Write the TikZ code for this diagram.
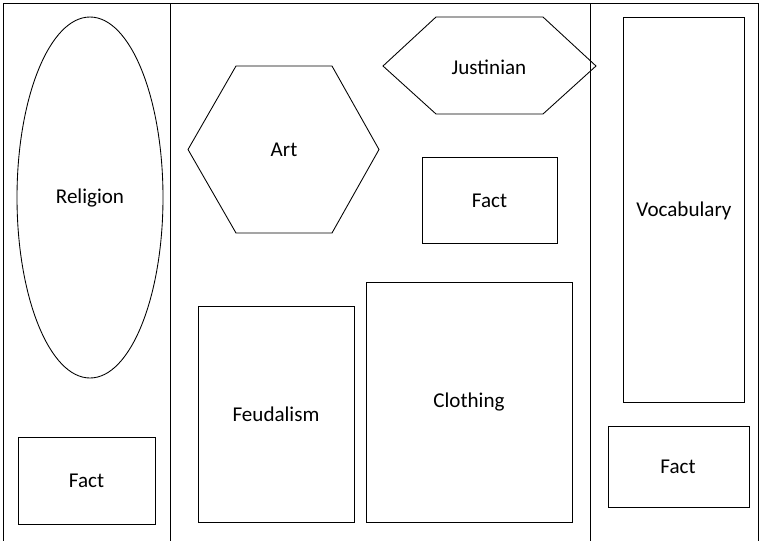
\documentclass[tikz,border=0pt]{standalone}
\usepackage{fontspec}
\setmainfont{Carlito}
\usetikzlibrary{positioning,calc}
\tikzset{
  outline/.style={draw=black,line width=0.65pt},
  label text/.style={font=\fontsize{15.8}{19}\selectfont,inner sep=0pt}
}

\begin{document}
\begin{tikzpicture}[x=0.75pt,y=-0.75pt,line join=miter]
\useasboundingbox (0,0) rectangle (760,540);
% frame and column rules
\draw[outline] (3,3) rectangle (758,542);
\draw[outline] (170.5,3) -- (170.5,542);
\draw[outline] (590,3) -- (590,542);
% left column
\draw[outline] (90,197.5) ellipse [x radius=73,y radius=180.5];
\node[label text] (religion) at (90,198) {Religion};
\draw[outline] (18,437) rectangle (155,524);
\node[label text] (factleft) at (86.5,481) {Fact};
% middle column
\draw[outline] (188,149.5) -- (236,66) -- (332,66) -- (379,149.5) -- (332,233) -- (236,233) -- cycle;
\node[label text] (art) at (284,150) {Art};
\draw[outline] (383,66) -- (436,17) -- (543,17) -- (596,66) -- (543,114) -- (436,114) -- cycle;
\node[label text] (justinian) at (489,67) {Justinian};
\draw[outline] (422,157) rectangle (557,243);
\node[label text] (factmid) at (489.5,201) {Fact};
\draw[outline] (198,306) rectangle (354,522);
\node[label text] (feudalism) at (276,414) {Feudalism};
\draw[outline] (366,282) rectangle (572,522);
\node[label text] (clothing) at (469,402) {Clothing};
% right column
\draw[outline] (623,17) rectangle (744,402);
\node[label text] (vocabulary) at (684,211) {Vocabulary};
\draw[outline] (608,426) rectangle (749,507);
\node[label text] (factright) at (678,467) {Fact};
\end{tikzpicture}
\end{document}
